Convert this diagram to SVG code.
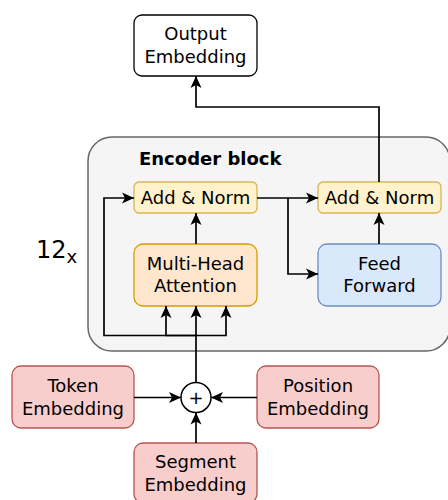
<svg xmlns="http://www.w3.org/2000/svg" width="448" height="500" viewBox="0 0 448 500">
  <style>
    text { font-family: "DejaVu Sans", "Liberation Sans", sans-serif; fill: #000; }
    .lbl { font-size: 18px; text-anchor: middle; }
    .edge { fill: none; stroke: #000; stroke-width: 1.7; }
    .box { stroke-width: 1.3; }
    .norm { fill: #fff2cc; stroke: #d6b656; }
    .attn { fill: #ffe6cc; stroke: #d79b00; }
    .ff { fill: #dae8fc; stroke: #6c8ebf; }
    .emb { fill: #f8cecc; stroke: #b85450; }
  </style>
  <defs>
    <marker id="arrow" markerUnits="userSpaceOnUse" markerWidth="16" markerHeight="14" viewBox="-13 -7 14 14" refX="0" refY="0" orient="auto">
      <path d="M-12,-5.5 L0,0 L-12,5.5 L-9,0 Z" fill="#000"/>
    </marker>
  </defs>

  <!-- encoder container -->
  <g id="encoder-block">
    <rect x="88" y="137" width="362" height="214" rx="24" fill="#f5f5f5" stroke="#666666" stroke-width="1.5"/>
    <text x="139" y="165" style="font-size:18px;font-weight:bold;">Encoder block</text>
  </g>

  <g id="repeat-label">
    <text x="36" y="258" style="font-size:24px;">12<tspan dy="5" style="font-size:18px;">x</tspan></text>
  </g>

  <g id="output-embedding">
    <rect class="box" x="134" y="15" width="123" height="61" rx="8" fill="#fff" stroke="#000"/>
    <text class="lbl" x="195.5" y="40">Output</text>
    <text class="lbl" x="195.5" y="62.5">Embedding</text>
  </g>

  <g id="add-norm-1">
    <rect class="box norm" x="134" y="182" width="123" height="31" rx="5"/>
    <text class="lbl" x="195.5" y="204">Add &amp; Norm</text>
  </g>

  <g id="add-norm-2">
    <rect class="box norm" x="318" y="182" width="123" height="31" rx="5"/>
    <text class="lbl" x="379.5" y="204">Add &amp; Norm</text>
  </g>

  <g id="multi-head-attention">
    <rect class="box attn" x="134" y="244" width="123" height="62" rx="9"/>
    <text class="lbl" x="195.5" y="269.5">Multi-Head</text>
    <text class="lbl" x="195.5" y="292">Attention</text>
  </g>

  <g id="feed-forward">
    <rect class="box ff" x="318" y="244" width="123" height="62" rx="9"/>
    <text class="lbl" x="379.5" y="269.5">Feed</text>
    <text class="lbl" x="379.5" y="292">Forward</text>
  </g>

  <g id="token-embedding">
    <rect class="box emb" x="12" y="366" width="122" height="62" rx="9"/>
    <text class="lbl" x="73" y="391.5">Token</text>
    <text class="lbl" x="73" y="414.5">Embedding</text>
  </g>

  <g id="position-embedding">
    <rect class="box emb" x="257" y="366" width="122" height="62" rx="9"/>
    <text class="lbl" x="318" y="391.5">Position</text>
    <text class="lbl" x="318" y="414.5">Embedding</text>
  </g>

  <g id="segment-embedding">
    <rect class="box emb" x="134" y="443" width="123" height="60" rx="9"/>
    <text class="lbl" x="195.5" y="468">Segment</text>
    <text class="lbl" x="195.5" y="491">Embedding</text>
  </g>

  <g id="sum">
    <circle cx="196" cy="397.5" r="15" fill="#fff" stroke="#000" stroke-width="1.5"/>
    <text class="lbl" x="196" y="404">+</text>
  </g>

  <g id="connectors">
    <path class="edge" d="M379,182 V107 H196 V76" marker-end="url(#arrow)"/>
    <path class="edge" d="M196,244 V213" marker-end="url(#arrow)"/>
    <path class="edge" d="M257,198 H318" marker-end="url(#arrow)"/>
    <path class="edge" d="M288,198 V274 H318" marker-end="url(#arrow)"/>
    <path class="edge" d="M379,244 V213" marker-end="url(#arrow)"/>
    <path class="edge" d="M196,335.5 H104 V198 H134" marker-end="url(#arrow)"/>
    <path class="edge" d="M196,335.5 H166 V306" marker-end="url(#arrow)"/>
    <path class="edge" d="M196,335.5 H226 V306" marker-end="url(#arrow)"/>
    <path class="edge" d="M196,382.5 V306" marker-end="url(#arrow)"/>
    <path class="edge" d="M134,397.5 H181" marker-end="url(#arrow)"/>
    <path class="edge" d="M257,397.5 H211" marker-end="url(#arrow)"/>
    <path class="edge" d="M196,443 V412.5" marker-end="url(#arrow)"/>
  </g>
</svg>
